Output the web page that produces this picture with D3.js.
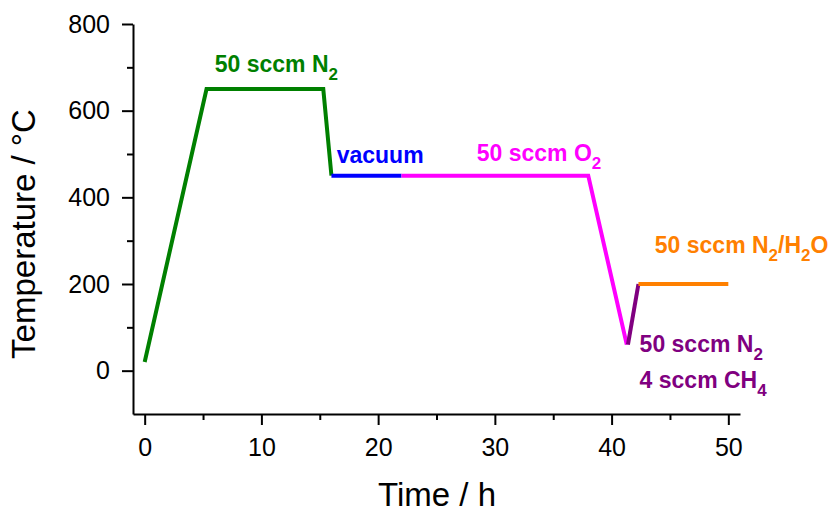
<!DOCTYPE html>
<html>
<head>
<meta charset="utf-8">
<script src="https://cdn.jsdelivr.net/npm/d3@7"></script>
<style>
  body { margin: 0; background: #fff; }
  svg { display: block; font-family: Arial, "Liberation Sans", sans-serif; }
</style>
</head>
<body>
<svg id="chart" width="834" height="512"></svg>
<script>
// ---- data ----
const greenSeg   = [[0, 20], [5.3, 650], [15.3, 650], [16.0, 450]];
const blueSeg    = [[16.0, 450], [22.0, 450]];
const magentaSeg = [[22.0, 450], [38.0, 450], [41.3, 60]];
const purpleSeg  = [[41.4, 60], [42.3, 200]];
const orangeSeg  = [[42.3, 200], [50, 200]];

const xMajorTicks = [0, 10, 20, 30, 40, 50];
const xMinorTicks = [5, 15, 25, 35, 45];
const yMajorTicks = [0, 200, 400, 600, 800];
const yMinorTicks = [100, 300, 500, 700];

const labels = [
  { text: "50 sccm N", sub: "2", rest: [], x: 6.0, y: 690, color: "#008000" },
  { text: "vacuum", sub: null, rest: [], x: 16.45, y: 479, color: "#0000FF" },
  { text: "50 sccm O", sub: "2", rest: [], x: 28.45, y: 484, color: "#FF00FF" },
  { text: "50 sccm N", sub: "2", rest: [["/H", "2"], ["O", null]], x: 43.7, y: 271, color: "#FF8000" },
  { text: "50 sccm N", sub: "2", rest: [], x: 42.4, y: 43, color: "#800080" },
  { text: "4 sccm CH", sub: "4", rest: [], x: 42.4, y: -40, color: "#800080" }
];

// ---- chart ----
const svg = d3.select("#chart");
const x = d3.scaleLinear().domain([-1, 51]).range([133, 740]);
const y = d3.scaleLinear().domain([-100, 800]).range([414, 24]);

const axisColor = "#000";
const tickFont = 25;

// minor ticks
svg.append("g").attr("transform", `translate(0,${y(-100)})`)
  .call(d3.axisBottom(x).tickValues(xMinorTicks).tickSize(6).tickSizeOuter(0).tickFormat(""))
  .call(g => g.select(".domain").remove());
svg.append("g").attr("transform", `translate(${x(-1)},0)`)
  .call(d3.axisLeft(y).tickValues(yMinorTicks).tickSize(6).tickSizeOuter(0).tickFormat(""))
  .call(g => g.select(".domain").remove());

// major axes
svg.append("g").attr("transform", `translate(0,${y(-100)})`)
  .call(d3.axisBottom(x).tickValues(xMajorTicks).tickSize(11).tickSizeOuter(0).tickPadding(13));
svg.append("g").attr("transform", `translate(${x(-1)},0)`)
  .call(d3.axisLeft(y).tickValues(yMajorTicks).tickSize(11).tickSizeOuter(0).tickPadding(12));

svg.selectAll(".tick line").attr("stroke", axisColor).attr("stroke-width", 2);
svg.selectAll(".domain").attr("stroke", axisColor).attr("stroke-width", 2);
svg.selectAll(".tick text").attr("font-size", tickFont).attr("fill", "#000")
  .attr("font-family", "Arial, 'Liberation Sans', sans-serif");

// axis titles
svg.append("text")
  .attr("x", 437).attr("y", 506)
  .attr("text-anchor", "middle")
  .attr("font-size", 33)
  .attr("fill", "#000")
  .text("Time / h");
svg.append("text")
  .attr("transform", "translate(35,234) rotate(-90)")
  .attr("text-anchor", "middle")
  .attr("font-size", 33)
  .attr("fill", "#000")
  .text("Temperature / °C");

// lines
const line = d3.line().x(d => x(d[0])).y(d => y(d[1]));
const segs = [
  [greenSeg, "#008000"],
  [blueSeg, "#0000FF"],
  [magentaSeg, "#FF00FF"],
  [purpleSeg, "#800080"],
  [orangeSeg, "#FF8000"]
];
segs.forEach(([data, color]) => {
  svg.append("path")
    .datum(data)
    .attr("d", line)
    .attr("fill", "none")
    .attr("stroke", color)
    .attr("stroke-width", 4)
    .attr("stroke-linejoin", "miter");
});

// annotations
labels.forEach(l => {
  const t = svg.append("text")
    .attr("x", x(l.x)).attr("y", y(l.y))
    .attr("font-size", 23)
    .attr("font-weight", "bold")
    .attr("fill", l.color);
  t.append("tspan").text(l.text);
  const parts = [];
  if (l.sub) parts.push([null, l.sub]);
  l.rest.forEach(r => parts.push(r));
  let shifted = false;
  parts.forEach(([main, sub]) => {
    if (main) {
      t.append("tspan").attr("dy", shifted ? -8 : 0).attr("font-size", 23).text(main);
      shifted = false;
    }
    if (sub) {
      t.append("tspan").attr("dy", shifted ? 0 : 8).attr("font-size", 17).text(sub);
      shifted = true;
    }
  });
});
</script>
</body>
</html>
